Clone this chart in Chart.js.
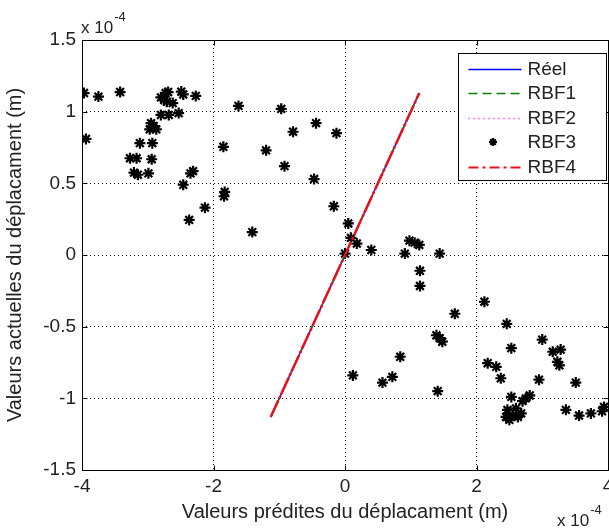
<!DOCTYPE html>
<html><head><meta charset="utf-8">
<script src="https://cdn.jsdelivr.net/npm/chart.js@4/dist/chart.umd.min.js"></script>
<style>
html,body{margin:0;padding:0;overflow:hidden;background:#fff;width:609px;height:529px}
#c{position:absolute;left:0;top:0}
</style>
</head><body>
<canvas id="c" width="650" height="529"></canvas>
<script>
// Axis values are in units of 1e-4 m
const xTicks = [-4, -2, 0, 2, 4];
const yTicks = [-1.5, -1, -0.5, 0, 0.5, 1, 1.5];
const seriesNames = ['Réel', 'RBF1', 'RBF2', 'RBF3', 'RBF4'];
const xTitle = 'Valeurs prédites du déplacament (m)';
const yTitle = 'Valeurs actuelles du déplacament (m)';
const exponentText = ['x 10', '-4'];

// Reference line (Réel) and RBF1 / RBF2 / RBF4 fits (all overlap)
const lineX = [-1.13, 1.13];
const reelY = [-1.13, 1.13];
const rbf1Y = [-1.13, 1.13];
const rbf2Y = [-1.13, 1.13];
const rbf4Y = [-1.13, 1.13];

// RBF3 scatter points
const rbf3X = [
  -3.97, -3.75, -3.42, -3.94,
  -2.80, -2.73, -2.69, -2.75, -2.71, -2.62, -2.49, -2.46, -2.27,
  -2.80, -2.68, -2.53,
  -2.95, -2.97, -2.87, -2.91,
  -3.12, -2.93,
  -3.27, -3.17, -2.94,
  -3.21, -3.15, -2.99,
  -2.46, -2.31, -2.35,
  -2.37, -2.13,
  -1.62, -0.97, -0.44, -0.79, -0.13, -1.85, -1.20, -0.92, -0.47, -1.83, -1.84, -0.17, -1.41, 0.05,
  0.09, 0.18, 0.00, 0.40, 0.98, 1.06, 1.13, 0.91, 1.44, 1.14, 1.14,
  2.12, 1.67, 2.46, 1.39, 1.44, 1.48, 2.53, 3.00, 3.16, 3.28, 3.23, 3.26,
  0.84, 0.12, 0.57, 0.72, 1.41, 2.17, 2.30, 2.37, 2.95, 3.51,
  2.53, 2.81, 2.75, 2.70, 2.47, 2.60, 2.68, 2.55, 2.45, 2.63, 2.50,
  3.36, 3.56, 3.74, 3.91, 3.94
];
const rbf3Y = [
  1.13, 1.105, 1.137, 0.81,
  1.10, 1.13, 1.137, 1.08, 1.07, 1.06, 1.14, 1.12, 1.11,
  0.977, 0.977, 0.99,
  0.92, 0.877, 0.877, 0.90,
  0.78, 0.78,
  0.675, 0.675, 0.668,
  0.575, 0.56, 0.57,
  0.49, 0.585, 0.57,
  0.245, 0.33,
  1.04, 1.02, 0.92, 0.86, 0.85, 0.755, 0.73, 0.62, 0.53, 0.44, 0.41, 0.34, 0.16, 0.22,
  0.12, 0.08, 0.01, 0.035, 0.10, 0.086, 0.07, 0.01, 0.01, -0.11, -0.216,
  -0.326, -0.41, -0.48, -0.56, -0.58, -0.605, -0.65, -0.59, -0.675, -0.66, -0.745, -0.77,
  -0.71, -0.84, -0.89, -0.85, -0.95, -0.755, -0.78, -0.86, -0.87, -0.89,
  -0.99, -0.98, -1.00, -1.02, -1.08, -1.07, -1.105, -1.12, -1.13, -1.13, -1.15,
  -1.08, -1.12, -1.105, -1.09, -1.06
];

const pts = (xs, ys) => xs.map((v, i) => ({x: v, y: ys[i]}));
const FONT = 'Liberation Sans, Arial, Helvetica, sans-serif';
const TXT = '#222';

const matlabPlugin = {
  id: 'matlabPlugin',
  afterDraw(chart) {
    const {ctx, chartArea: a, scales: {x, y}} = chart;
    const L = Math.round(a.left) + 0.5, R = Math.round(a.right) + 0.5;
    const T = Math.round(a.top) + 0.5, B = Math.round(a.bottom) + 0.5;
    ctx.save();
    ctx.strokeStyle = '#000';
    ctx.lineWidth = 1;
    ctx.setLineDash([]);
    ctx.beginPath();
    ctx.rect(L, T, R - L, B - T);
    const tl = 5;
    xTicks.forEach(v => {
      const px = Math.round(x.getPixelForValue(v)) + 0.5;
      ctx.moveTo(px, B); ctx.lineTo(px, B - tl);
      ctx.moveTo(px, T); ctx.lineTo(px, T + tl);
    });
    yTicks.forEach(v => {
      const py = Math.round(y.getPixelForValue(v)) + 0.5;
      ctx.moveTo(L, py); ctx.lineTo(L + tl, py);
      ctx.moveTo(R, py); ctx.lineTo(R - tl, py);
    });
    ctx.stroke();

    ctx.fillStyle = TXT;
    ctx.textBaseline = 'alphabetic';
    ctx.textAlign = 'left';
    const drawExp = (x0, base) => {
      ctx.font = '17px ' + FONT;
      ctx.fillText(exponentText[0], x0, base);
      const w = ctx.measureText(exponentText[0]).width;
      ctx.font = '13px ' + FONT;
      ctx.fillText(exponentText[1], x0 + w + 1, base - 12);
    };
    drawExp(a.left - 1, a.top - 7);
    drawExp(a.right - 51, a.bottom + 56);

    const bx = Math.round(a.right - 150) + 0.5, by = Math.round(a.top + 13) + 0.5;
    const bw = 148, bh = 127;
    ctx.fillStyle = '#fff';
    ctx.fillRect(bx, by, bw, bh);
    ctx.strokeStyle = '#000';
    ctx.lineWidth = 1;
    ctx.strokeRect(bx, by, bw, bh);
    ctx.font = '19px ' + FONT;
    ctx.textBaseline = 'middle';
    const dsList = chart.data.datasets;
    seriesNames.forEach((name, i) => {
      const ds = dsList.find(d => d.label === name);
      const cy = by + 15 + i * 24.5;
      const x1 = bx + 10, x2 = bx + 63;
      if (ds.showLine) {
        ctx.save();
        ctx.strokeStyle = ds.borderColor;
        ctx.lineWidth = ds.legendWidth || ds.borderWidth;
        ctx.setLineDash(ds.legendDash || []);
        ctx.beginPath();
        ctx.moveTo(x1, Math.round(cy) + 0.5);
        ctx.lineTo(x2, Math.round(cy) + 0.5);
        ctx.stroke();
        ctx.restore();
      } else {
        ctx.save();
        ctx.strokeStyle = ds.borderColor;
        ctx.fillStyle = ds.backgroundColor;
        ctx.lineWidth = ds.borderWidth;
        Chart.helpers.drawPoint(ctx, {pointStyle: ds.pointStyle, radius: 4, borderWidth: ds.borderWidth, rotation: 0}, (x1 + x2) / 2 - 2, cy);
        ctx.restore();
      }
      ctx.fillStyle = TXT;
      ctx.fillText(name, bx + 69, cy + 1);
    });
    ctx.restore();
  }
};

new Chart(document.getElementById('c'), {
  type: 'scatter',
  data: {
    datasets: [
      {label: seriesNames[0], data: pts(lineX, reelY), showLine: true, pointRadius: 0,
       borderColor: '#0000ff', borderWidth: 1.5, order: 5, legendDash: []},
      {label: seriesNames[1], data: pts(lineX, rbf1Y), showLine: true, pointRadius: 0,
       borderColor: '#008000', borderWidth: 1.5, borderDash: [8, 4], order: 4, legendDash: [9, 5]},
      {label: seriesNames[2], data: pts(lineX, rbf2Y), showLine: true, pointRadius: 0,
       borderColor: '#ff00ff', borderWidth: 1.5, borderDash: [1, 3], order: 3, legendDash: [1, 4]},
      {label: seriesNames[3], data: pts(rbf3X, rbf3Y), showLine: false, pointStyle: 'star',
       pointRadius: 5.5, borderWidth: 2.2, borderColor: '#000', backgroundColor: '#000', order: 2},
      {label: seriesNames[4], data: pts(lineX, rbf4Y), showLine: true, pointRadius: 0,
       borderColor: '#e8101a', borderWidth: 2.5, borderDash: [18, 2, 3, 2], order: 1,
       legendDash: [10, 4, 3, 4], legendWidth: 2}
    ]
  },
  options: {
    responsive: false,
    animation: false,
    events: [],
    layout: {padding: {left: 0, top: 40, right: 42, bottom: 0}},
    plugins: {legend: {display: false}, tooltip: {enabled: false}},
    scales: {
      x: {
        type: 'linear', min: xTicks[0], max: xTicks[xTicks.length - 1],
        afterBuildTicks: s => { s.ticks = xTicks.map(v => ({value: v})); },
        afterFit: s => { s.height = 59; },
        ticks: {color: TXT, font: {family: FONT, size: 19}, padding: 5, maxRotation: 0,
                callback: v => String(v)},
        grid: {color: '#000', lineWidth: 1, drawTicks: false},
        border: {display: false, dash: [1, 3]},
        title: {display: true, text: xTitle, color: TXT, font: {family: FONT, size: 20}, padding: {top: 0, bottom: 5}}
      },
      y: {
        type: 'linear', min: yTicks[0], max: yTicks[yTicks.length - 1],
        afterBuildTicks: s => { s.ticks = yTicks.map(v => ({value: v})); },
        afterFit: s => { s.width = 82; },
        ticks: {color: TXT, font: {family: FONT, size: 19}, padding: 6,
                callback: v => String(v)},
        grid: {color: '#000', lineWidth: 1, drawTicks: false},
        border: {display: false, dash: [1, 3]},
        title: {display: true, text: yTitle, color: TXT, font: {family: FONT, size: 20}, padding: {top: 3, bottom: 0}}
      }
    }
  },
  plugins: [matlabPlugin]
});
</script>
</body></html>
